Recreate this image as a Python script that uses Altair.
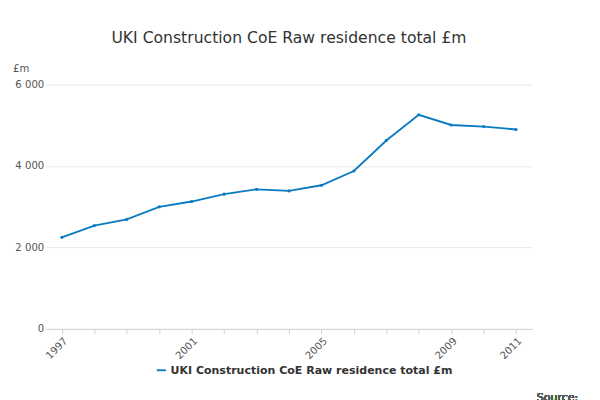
import altair as alt
import pandas as pd

years = list(range(1997, 2012))
values = [2250, 2540, 2690, 3000, 3130, 3310, 3430, 3390, 3530, 3880, 4630, 5260, 5010, 4970, 4900]
series = "UKI Construction CoE Raw residence total £m"

df = pd.DataFrame({"year": years, "value": values, "series": series})

font = "DejaVu Sans"

line = (
    alt.Chart(df)
    .mark_line(color="#0a7bc2", strokeWidth=2, point=alt.OverlayMarkDef(size=12, color="#0a7bc2"))
    .encode(
        x=alt.X("year:Q", title=None,
                scale=alt.Scale(domain=[1996.5, 2011.5], nice=False, zero=False),
                axis=alt.Axis(values=years, labelAngle=-45, grid=False, tickColor="#ccc",
                              domainColor="#ccc", labelColor="#555", labelFontSize=11,
                              labelExpr="indexof([1997,2001,2005,2009,2011], datum.value) >= 0 ? datum.value : ''")),
        y=alt.Y("value:Q", title="£m",
                scale=alt.Scale(domain=[0, 6000]),
                axis=alt.Axis(values=[0, 2000, 4000, 6000], gridColor="#e6e6e6", domain=False, ticks=False,
                              labelColor="#555", labelFontSize=11, titleAngle=0, titleAlign="left",
                              titleAnchor="end", titleX=-36, titleY=-12, titleFontWeight="normal",
                              titleColor="#555",
                              labelExpr="replace(format(datum.value, ','), ',', ' ')")),
        color=alt.Color("series:N", title=None,
                        scale=alt.Scale(range=["#0a7bc2"]),
                        legend=alt.Legend(orient="none", legendX=120, legendY=305, labelFontSize=12,
                                          labelFontWeight="bold",
                                          labelColor="#333", symbolType="stroke", symbolStrokeWidth=2,
                                          labelLimit=400)),
    )
)

source = alt.Chart(df).mark_text(text="Source:", align="right", fontSize=12, color="#555",
                                 fontWeight="normal", font=font).encode(
    x=alt.value(580), y=alt.value(340)
)

chart = (line + source).properties(
    width=530, height=266,
    title=alt.TitleParams("UKI Construction CoE Raw residence total £m", fontSize=17,
                          fontWeight="normal", color="#333", font=font, offset=18),
    padding={"left": 5, "top": 6, "right": 15, "bottom": 5},
).configure(font=font).configure_view(stroke=None)

chart.save("out.html", embed_options={"renderer": "svg", "actions": False})
